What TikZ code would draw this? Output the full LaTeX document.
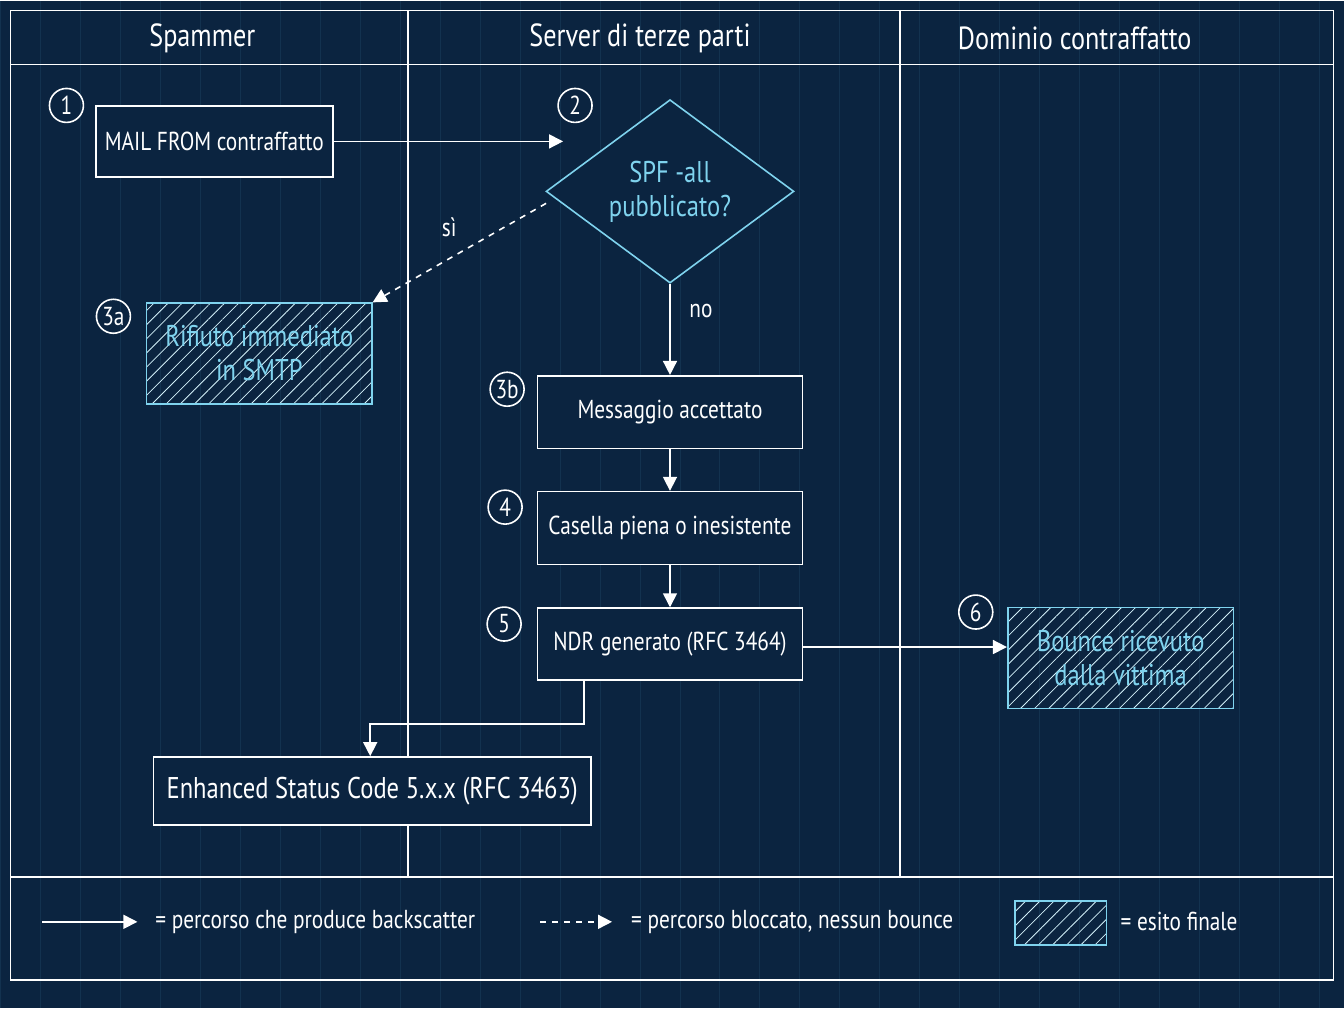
\documentclass[tikz,border=0pt]{standalone}
\usepackage{fontspec}
\setmainfont{PT Sans}[FakeStretch=0.82]
\usetikzlibrary{shapes.geometric,patterns.meta,arrows.meta}
\definecolor{bgnavy}{HTML}{0B2440}
\definecolor{gridblue}{HTML}{13324F}
\definecolor{cyanish}{HTML}{7FD3EE}
\newcommand{\bodysize}{\fontsize{13}{15}\selectfont}
\newcommand{\bigsize}{\fontsize{15}{17}\selectfont}
\tikzset{
  step box/.style={draw=white, thick, fill=bgnavy, text=white, font=\bodysize, inner sep=0pt},
  final box/.style={draw=cyanish, thick, pattern={Lines[angle=45,distance=5pt,line width=0.4pt]}, pattern color=cyanish!35, text=cyanish, font=\bigsize, align=center, inner sep=0pt},
  num/.style={draw=white, thick, circle, minimum size=17pt, inner sep=0pt, text=white, font=\bodysize},
  flow/.style={draw=white, thick, -{Triangle[length=7pt,width=7pt]}},
  blocked/.style={flow, dashed},
  lane title/.style={text=white, font=\fontsize{16}{18}\selectfont},
  legend text/.style={text=white, font=\bodysize, anchor=west}
}
\begin{document}
\begin{tikzpicture}[x=0.5pt, y=-0.5pt]
  % background and grid
  \fill[bgnavy] (0,0) rectangle (1344,1008);
  \draw[gridblue, line width=0.5pt] (0,0) grid[step=40] (1344,1008);
  \useasboundingbox (0,0) rectangle (1344,1008);
  % lanes
  \draw[white, thick] (10,10) rectangle (1334,980);
  \draw[white, thick] (10,64) -- (1334,64);
  \draw[white, thick] (10,877) -- (1334,877);
  \draw[white, thick] (408,10) -- (408,877);
  \draw[white, thick] (900,10) -- (900,877);
  \node[lane title] (spammer) at (202,38) {Spammer};
  \node[lane title] (server) at (640,38) {Server di terze parti};
  \node[lane title] (dominio) at (1075,38) {Dominio contraffatto};

  % steps
  \node[step box, minimum width=118.5pt, minimum height=35.5pt] (mail) at (214,141) {MAIL FROM contraffatto};
  \node[draw=cyanish, thick, diamond, fill=bgnavy, minimum width=124pt, minimum height=76pt, inner sep=0pt, text=cyanish, font=\bigsize, align=center] (spf) at (670,191) {SPF -all\\pubblicato?};
  \node[final box, minimum width=113pt, minimum height=50.5pt] (rifiuto) at (259,353) {Rifiuto immediato\\in SMTP};
  \node[step box, minimum width=132.5pt, minimum height=36.5pt] (accettato) at (670,412) {Messaggio accettato};
  \node[step box, minimum width=132.5pt, minimum height=36.5pt] (casella) at (670,528) {Casella piena o inesistente};
  \node[step box, minimum width=132.5pt, minimum height=36pt] (ndr) at (670,644) {NDR generato (RFC 3464)};
  \node[final box, minimum width=113pt, minimum height=50.5pt] (bounce) at (1121,658) {Bounce ricevuto\\dalla vittima};
  \node[step box, minimum width=219pt, minimum height=34pt, font=\bigsize] (esc) at (372,791) {Enhanced Status Code 5.x.x (RFC 3463)};

  % numbers
  \node[num] (n1) at (66,105) {1};
  \node[num] (n2) at (575,105) {2};
  \node[num] (n3a) at (113,316) {3a};
  \node[num] (n3b) at (507,389) {3b};
  \node[num] (n4) at (505,507) {4};
  \node[num] (n5) at (504,624) {5};
  \node[num] (n6) at (976,612) {6};

  % connectors
  \coordinate (spfin) at (563,141);
  \coordinate (spfout) at (546,203);
  \draw[flow] (mail.east) -- (spfin);
  \draw[blocked] (spfout) -- (rifiuto.north east) node[pos=0.45, above left=2pt, text=white, font=\bodysize] {sì};
  \draw[flow] (spf.south) -- (accettato.north) node[pos=0.3, right=6pt, text=white, font=\bodysize] {no};
  \draw[flow] (accettato) -- (casella);
  \draw[flow] (casella) -- (ndr);
  \draw[flow] (ndr.east |- 0,647) -- (bounce.west |- 0,647);
  \draw[flow] (ndr.south -| 584,0) |- (370,724) -- (esc.north -| 370,0);

  % legend
  \coordinate (l1a) at (42,922); \coordinate (l1b) at (137,922);
  \draw[flow] (l1a) -- (l1b);
  \node[legend text] (l1) at (148,922) {= percorso che produce backscatter};
  \coordinate (l2a) at (540,922); \coordinate (l2b) at (612,922);
  \draw[blocked] (l2a) -- (l2b);
  \node[legend text] (l2) at (624,922) {= percorso bloccato, nessun bounce};
  \node[final box, minimum width=46pt, minimum height=22pt] (l3box) at (1061,923) {};
  \node[legend text] (l3) at (1114,922) {= esito finale};
\end{tikzpicture}
\end{document}
